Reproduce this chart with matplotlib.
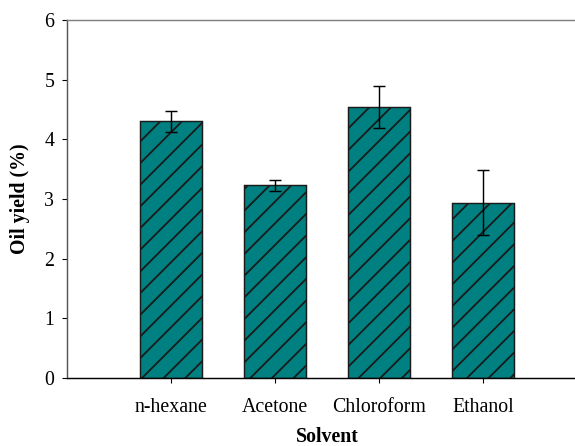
import numpy as np
import matplotlib
matplotlib.use("Agg")
import matplotlib.pyplot as plt

solvents = ["n-hexane", "Acetone", "Chloroform", "Ethanol"]
oil_yield = [4.30, 3.23, 4.54, 2.94]
yield_err = [0.18, 0.09, 0.35, 0.55]
y_ticks = [0, 1, 2, 3, 4, 5, 6]

plt.rcParams.update({
    "font.family": "Liberation Serif", "font.size": 11,
    "hatch.linewidth": 1.0,
})

DPI = 130
fig = plt.figure(figsize=(575 / DPI, 446 / DPI), dpi=DPI)
# axes runs a little past the right edge, as in the reference
ax = fig.add_axes([67 / 575, 68 / 446, 520 / 575, 358 / 446])

x = np.arange(len(solvents))
ax.bar(x, oil_yield, width=0.6, color="#008080", edgecolor="#1a1a1a",
       linewidth=0.8, hatch="//", zorder=2)
ax.errorbar(x, oil_yield, yerr=yield_err, fmt="none", ecolor="black",
            elinewidth=0.8, capsize=3.4, capthick=0.8, zorder=3)

ax.set_xlim(-1, 4)
ax.set_ylim(0, 6)
ax.set_yticks(y_ticks)
ax.set_xticks(x)
ax.set_xticklabels(solvents)
ax.tick_params(axis="y", direction="out", length=2.5, width=0.6, pad=4.5)
ax.tick_params(axis="x", direction="out", length=2.8, width=0.6, pad=8)

ax.spines["right"].set_visible(False)
ax.spines["top"].set_color("#808080")
ax.spines["left"].set_color("#555555")
ax.spines["bottom"].set_color("black")
for s in ax.spines.values():
    s.set_linewidth(0.8)

ax.set_ylabel("Oil yield (%)", fontweight="bold", labelpad=8)
ax.set_xlabel("Solvent", fontweight="bold", labelpad=6)

fig.savefig("out.png", dpi=DPI)
